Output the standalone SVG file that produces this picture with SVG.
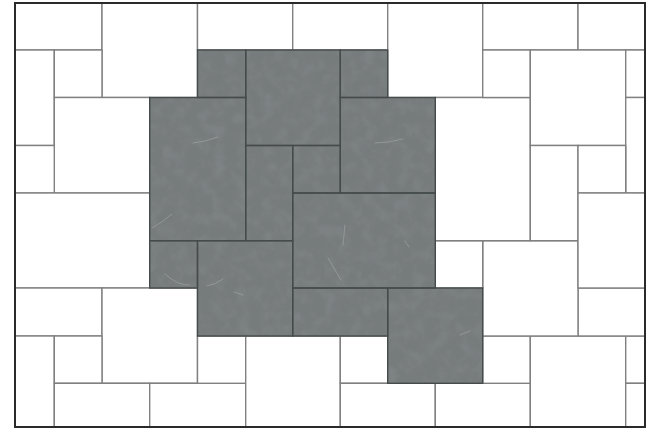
<svg xmlns="http://www.w3.org/2000/svg" width="654" height="429" viewBox="0 0 654 429">
<style>
.w{fill:#fff;stroke:#808080;stroke-width:1.4}
.g{fill:none;stroke:#454b4b;stroke-width:1.4}
.v{fill:none;stroke:#a4a9a9;stroke-width:1;stroke-linecap:round;opacity:.6}
.f{fill:#767b7c}
</style>
<defs>
<filter id="stone" x="0" y="0" width="100%" height="100%" color-interpolation-filters="sRGB">
<feTurbulence type="fractalNoise" baseFrequency="0.08" numOctaves="3" seed="7" result="n"/>
<feColorMatrix in="n" type="matrix" values="0 0 0 0 .56  0 0 0 0 .58  0 0 0 0 .59  .45 .45 0 0 -.36" result="light"/>
<feComposite in="light" in2="SourceGraphic" operator="in" result="c"/>
<feMerge><feMergeNode in="SourceGraphic"/><feMergeNode in="c"/></feMerge>
</filter>
<filter id="soft" x="-20%" y="-20%" width="140%" height="140%"><feGaussianBlur stdDeviation="0.6"/></filter>
</defs>
<rect width="654" height="429" fill="#fff"/>
<g id="white-pavers">
<rect class="w" x="15" y="3" width="87" height="47"/>
<rect class="w" x="102" y="3" width="95.5" height="94.5"/>
<rect class="w" x="197.5" y="3" width="95.2" height="47"/>
<rect class="w" x="292.7" y="3" width="95" height="47"/>
<rect class="w" x="387.7" y="3" width="95" height="94.5"/>
<rect class="w" x="482.7" y="3" width="95.3" height="47"/>
<rect class="w" x="578" y="3" width="67" height="47"/>
<rect class="w" x="15" y="50" width="39.3" height="95.5"/>
<rect class="w" x="54.3" y="50" width="47.7" height="47.5"/>
<rect class="w" x="54.3" y="97.5" width="95.4" height="95.5"/>
<rect class="w" x="15" y="145.5" width="39.3" height="47.5"/>
<rect class="w" x="15" y="193" width="134.7" height="95"/>
<rect class="w" x="15" y="288" width="87" height="48"/>
<rect class="w" x="102" y="288" width="95.5" height="95.3"/>
<rect class="w" x="15" y="336" width="39.3" height="91"/>
<rect class="w" x="54.3" y="336" width="47.7" height="47.3"/>
<rect class="w" x="54.3" y="383.3" width="95.4" height="43.7"/>
<rect class="w" x="149.7" y="383.3" width="96" height="43.7"/>
<rect class="w" x="197.5" y="336" width="48.2" height="47.3"/>
<rect class="w" x="245.7" y="336" width="94.6" height="91"/>
<rect class="w" x="340.3" y="336" width="47.4" height="47.3"/>
<rect class="w" x="340.3" y="383.3" width="95" height="43.7"/>
<rect class="w" x="435.3" y="383.3" width="95" height="43.7"/>
<rect class="w" x="482.7" y="336" width="47.6" height="47.3"/>
<rect class="w" x="530.3" y="336" width="95.4" height="91"/>
<rect class="w" x="625.7" y="336" width="19.3" height="47.3"/>
<rect class="w" x="625.7" y="383.3" width="19.3" height="43.7"/>
<rect class="w" x="578" y="288" width="67" height="48"/>
<rect class="w" x="482.7" y="240.7" width="95.3" height="95.3"/>
<rect class="w" x="435.3" y="240.7" width="47.4" height="47.3"/>
<rect class="w" x="435.3" y="97.5" width="95" height="143.2"/>
<rect class="w" x="482.7" y="50" width="47.6" height="47.5"/>
<rect class="w" x="530.3" y="50" width="95.4" height="95.5"/>
<rect class="w" x="625.7" y="50" width="19.3" height="47.5"/>
<rect class="w" x="625.7" y="97.5" width="19.3" height="95.5"/>
<rect class="w" x="530.3" y="145.5" width="47.7" height="95.2"/>
<rect class="w" x="578" y="145.5" width="47.7" height="47.5"/>
<rect class="w" x="578" y="193" width="67" height="95"/>
</g>
<g id="stone-surface">
<path class="f" filter="url(#stone)" d="M197.5 50H387.7V97.5H435.3V288H482.7V383.3H387.7V336H197.5V288H149.7V97.5H197.5Z"/>
<g filter="url(#soft)">
<path class="v" d="M193 143Q205 142 218 137"/>
<path class="v" d="M152 228Q163 222 172 214"/>
<path class="v" d="M165 274Q178 286 190 285"/>
<path class="v" d="M207 286Q215 285 223 279"/>
<path class="v" d="M234 292L243 295"/>
<path class="v" d="M375 143Q388 143 403 139"/>
<path class="v" d="M328 258L341 280"/>
<path class="v" d="M405 241L409 247"/>
<path class="v" d="M345 225L343 245"/>
<path class="v" d="M460 335L470 331"/>
</g>
</g>
<g id="stone-pavers">
<rect class="g" x="197.5" y="50" width="48.2" height="47.5"/>
<rect class="g" x="245.7" y="50" width="94.6" height="95.5"/>
<rect class="g" x="340.3" y="50" width="47.4" height="47.5"/>
<rect class="g" x="149.7" y="97.5" width="96" height="143.2"/>
<rect class="g" x="340.3" y="97.5" width="95" height="95.5"/>
<rect class="g" x="245.7" y="145.5" width="47" height="95.2"/>
<rect class="g" x="292.7" y="145.5" width="47.6" height="47.5"/>
<rect class="g" x="292.7" y="193" width="142.6" height="95"/>
<rect class="g" x="149.7" y="240.7" width="47.8" height="47.3"/>
<rect class="g" x="197.5" y="240.7" width="95.2" height="95.3"/>
<rect class="g" x="292.7" y="288" width="95" height="48"/>
<rect class="g" x="387.7" y="288" width="95" height="95.3"/>
</g>
<rect id="frame" x="15" y="3" width="630" height="424" fill="none" stroke="#2a2a2a" stroke-width="2"/>
</svg>
